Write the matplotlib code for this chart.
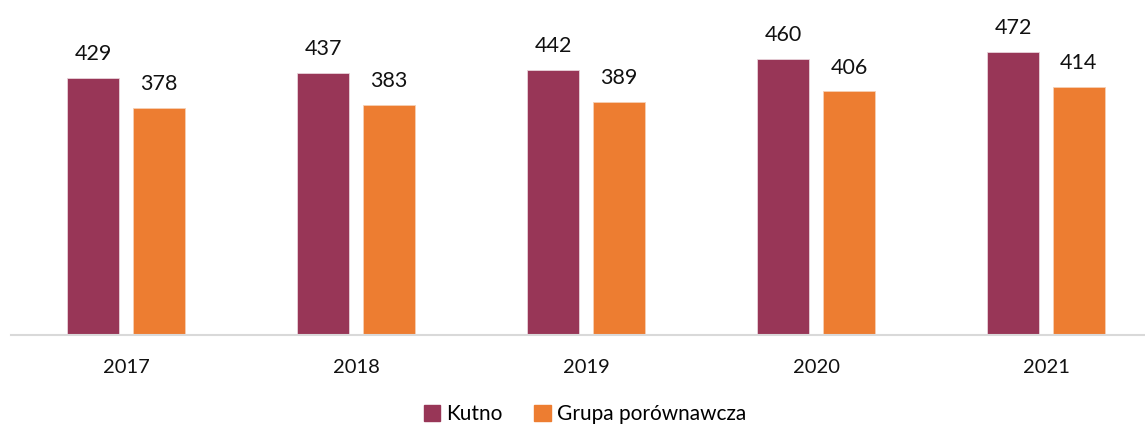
import numpy as np
import matplotlib.pyplot as plt
from matplotlib.patches import Patch

years = ['2017', '2018', '2019', '2020', '2021']
kutno = [429, 437, 442, 460, 472]
grupa = [378, 383, 389, 406, 414]

c_kutno = '#983657'
c_grupa = '#ED7D31'

plt.rcParams['font.family'] = ['Lato', 'DejaVu Sans']

fig = plt.figure(figsize=(11.45, 4.3), dpi=100)
ax = fig.add_axes([11/1145, 95/430, 1150/1145, 336/430])

x = np.arange(len(years))
w = 0.226
off = 0.143
b1 = ax.bar(x - off, kutno, w, color=c_kutno, edgecolor='#e8d3da', linewidth=0.6)
b2 = ax.bar(x + off, grupa, w, color=c_grupa, edgecolor='#f6d0b4', linewidth=0.6)

for bars in (b1, b2):
    for r in bars:
        ax.annotate(f'{int(r.get_height())}', (r.get_x() + r.get_width() / 2, r.get_height()),
                    xytext=(0, 10), textcoords='offset points', ha='center', va='bottom',
                    fontsize=15.5, color='#111111')

ax.set_xlim(-0.5, len(years) - 0.5)
ax.set_ylim(0, 560)
ax.set_yticks([])
ax.set_xticks(x)
ax.set_xticklabels(years, fontsize=14.5, color='#111111')
ax.tick_params(axis='x', length=0, pad=17)
for s in ['top', 'right', 'left']:
    ax.spines[s].set_visible(False)
ax.spines['bottom'].set_color('#d9d9d9')
ax.spines['bottom'].set_linewidth(1.5)

handles = [Patch(color=c_kutno, label='Kutno'), Patch(color=c_grupa, label='Grupa porównawcza')]
fig.legend(handles=handles, loc='center', bbox_to_anchor=(585/1145, 1 - 414/430), ncol=2,
           frameon=False, fontsize=15, handlelength=0.8, handleheight=0.8,
           handletextpad=0.3, columnspacing=1.5)

fig.savefig('out.png', dpi=100)
